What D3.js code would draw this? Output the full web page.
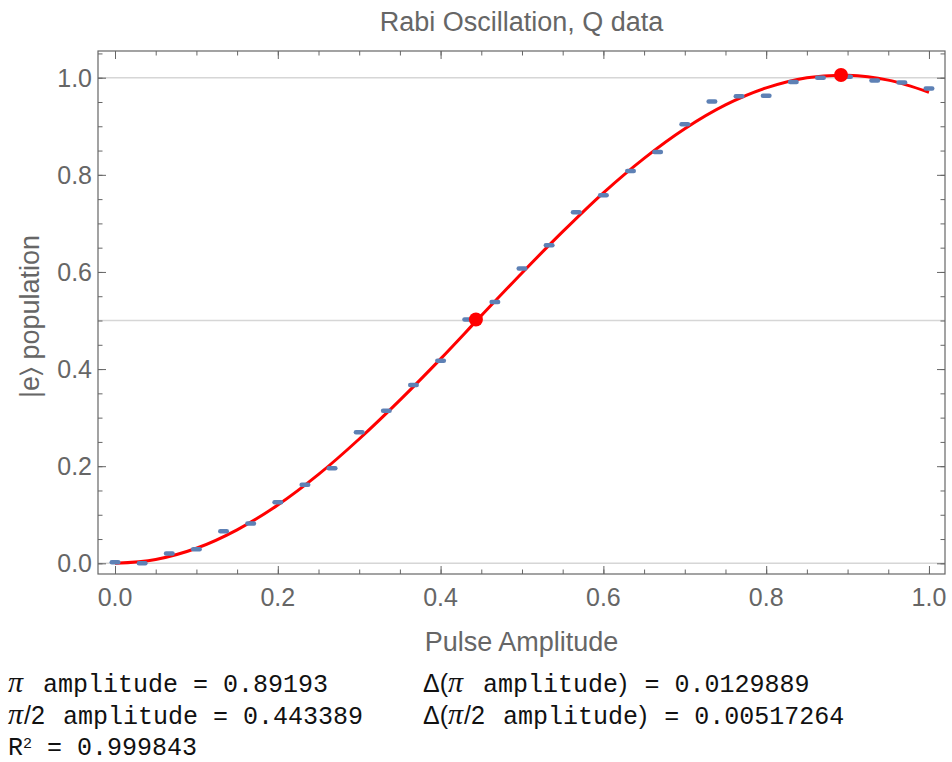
<!DOCTYPE html>
<html>
<head>
<meta charset="utf-8">
<script src="https://cdn.jsdelivr.net/npm/d3@7"></script>
<style>
  html, body { margin: 0; padding: 0; background: #fff; }
  svg { display: block; }
</style>
</head>
<body>
<div id="chart"></div>
<script>
// Rabi oscillation - measured Q data with sin^2 fit

// pulse amplitudes of the measured points
const amplitudes = [0, 1/30, 2/30, 3/30, 4/30, 5/30, 6/30, 7/30, 8/30, 9/30, 10/30,
    11/30, 12/30, 13/30, 14/30, 15/30, 16/30, 17/30, 18/30, 19/30, 20/30,
    21/30, 22/30, 23/30, 24/30, 25/30, 26/30, 27/30, 28/30, 29/30, 1];
// |e> population
const population = [0.002, 0.000, 0.020, 0.029, 0.066, 0.082, 0.126, 0.162, 0.196, 0.270, 0.314,
    0.367, 0.417, 0.502, 0.538, 0.607, 0.655, 0.723, 0.758, 0.808, 0.847,
    0.904, 0.951, 0.962, 0.963, 0.991, 1.000, 1.002, 0.994, 0.990, 0.978];

// fitted curve
const fitX = [0, 0.05, 0.1, 0.15, 0.2, 0.25, 0.3, 0.35, 0.4, 0.45, 0.5,
    0.55, 0.6, 0.65, 0.7, 0.75, 0.8, 0.85, 0.9, 0.95, 1.0];
const fitY = [0, 0.008, 0.031, 0.069, 0.120, 0.183, 0.256, 0.336, 0.421, 0.510, 0.598,
    0.683, 0.763, 0.834, 0.895, 0.944, 0.979, 1.000, 1.005, 0.995, 0.970];

// pi and pi/2 markers
const markerX = [0.89193, 0.443389];
const markerY = [1.0056, 0.502];

const xTickValues = [0, 0.2, 0.4, 0.6, 0.8, 1.0];
const yTickValues = [0, 0.2, 0.4, 0.6, 0.8, 1.0];
const gridValues = [0, 0.5, 1.0];

const width = 952;
const height = 762;
const frame = { left: 98, right: 945, top: 51, bottom: 574 };

const gray = '#666';
const sans = '"Liberation Sans", Arial, Helvetica, sans-serif';
const mono = '"Liberation Mono", "Courier New", monospace';
const serif = '"Liberation Serif", "Times New Roman", serif';

const svg = d3.select('#chart').append('svg')
    .attr('width', width)
    .attr('height', height);

const x = d3.scaleLinear().domain([-0.0209, 1.0197]).range([frame.left, frame.right]);
const y = d3.scaleLinear().domain([-0.022, 1.055]).range([frame.bottom, frame.top]);

// Grid lines
svg.append('g')
    .selectAll('line')
    .data(gridValues)
    .enter()
    .append('line')
    .attr('x1', frame.left)
    .attr('x2', frame.right)
    .attr('y1', d => y(d))
    .attr('y2', d => y(d))
    .attr('stroke', '#d6d6d6')
    .attr('stroke-width', 1.5);

// Frame axes, ticks point inward
const majorLen = 8;
const minorLen = 4.5;
const xMinor = x.ticks(20).filter(v => v >= 0 && v <= 1);
const yMinor = d3.range(0, 22).map(i => i * 0.05).filter(v => v <= y.domain()[1]);

function drawAxis(axis, offset, len, cls) {
    const g = svg.append('g')
        .attr('class', cls)
        .attr('transform', offset)
        .call(axis.tickSize(-len).tickFormat(''));
    g.select('.domain').remove();
    g.selectAll('.tick line').attr('stroke', gray).attr('stroke-width', 1);
    return g;
}

drawAxis(d3.axisBottom(x).tickValues(xMinor), `translate(0,${frame.bottom})`, minorLen, 'xb-minor');
drawAxis(d3.axisBottom(x).tickValues(xTickValues), `translate(0,${frame.bottom})`, majorLen, 'xb-major');
drawAxis(d3.axisTop(x).tickValues(xMinor), `translate(0,${frame.top})`, minorLen, 'xt-minor');
drawAxis(d3.axisTop(x).tickValues(xTickValues), `translate(0,${frame.top})`, majorLen, 'xt-major');
drawAxis(d3.axisLeft(y).tickValues(yMinor), `translate(${frame.left},0)`, minorLen, 'yl-minor');
drawAxis(d3.axisLeft(y).tickValues(yTickValues), `translate(${frame.left},0)`, majorLen, 'yl-major');
drawAxis(d3.axisRight(y).tickValues(yMinor), `translate(${frame.right},0)`, minorLen, 'yr-minor');
drawAxis(d3.axisRight(y).tickValues(yTickValues), `translate(${frame.right},0)`, majorLen, 'yr-major');

svg.append('rect')
    .attr('x', frame.left)
    .attr('y', frame.top)
    .attr('width', frame.right - frame.left)
    .attr('height', frame.bottom - frame.top)
    .attr('fill', 'none')
    .attr('stroke', gray)
    .attr('stroke-width', 1.2);

// Tick labels
svg.append('g')
    .selectAll('text')
    .data(xTickValues)
    .enter()
    .append('text')
    .attr('x', d => x(d))
    .attr('y', 606)
    .attr('text-anchor', 'middle')
    .attr('font-family', sans)
    .attr('font-size', 25)
    .attr('fill', gray)
    .text(d3.format('.1f'));

svg.append('g')
    .selectAll('text')
    .data(yTickValues)
    .enter()
    .append('text')
    .attr('x', 92)
    .attr('y', d => y(d) + 9)
    .attr('text-anchor', 'end')
    .attr('font-family', sans)
    .attr('font-size', 25)
    .attr('fill', gray)
    .text(d3.format('.1f'));

// Title and axis labels
svg.append('text')
    .attr('x', (frame.left + frame.right) / 2)
    .attr('y', 31)
    .attr('text-anchor', 'middle')
    .attr('font-family', sans)
    .attr('font-size', 27)
    .attr('fill', gray)
    .text('Rabi Oscillation, Q data');

svg.append('text')
    .attr('x', (frame.left + frame.right) / 2)
    .attr('y', 651)
    .attr('text-anchor', 'middle')
    .attr('font-family', sans)
    .attr('font-size', 27)
    .attr('fill', gray)
    .text('Pulse Amplitude');

svg.append('text')
    .attr('transform', `translate(39,${(frame.top + frame.bottom) / 2 + 4}) rotate(-90)`)
    .attr('text-anchor', 'middle')
    .attr('font-family', sans)
    .attr('font-size', 27)
    .attr('fill', gray)
    .text('|e\u232A population');

// Fit curve
const fitData = fitX.map((v, i) => [v, fitY[i]]);
const line = d3.line()
    .x(d => x(d[0]))
    .y(d => y(d[1]))
    .curve(d3.curveCatmullRom);

svg.append('path')
    .datum(fitData)
    .attr('d', line)
    .attr('fill', 'none')
    .attr('stroke', '#ff0000')
    .attr('stroke-width', 3);

// Data points (short dashes)
const points = amplitudes.map((v, i) => [v, population[i]]);
svg.append('g')
    .selectAll('rect')
    .data(points)
    .enter()
    .append('rect')
    .attr('x', d => x(d[0]) - 5.5)
    .attr('y', d => y(d[1]) - 2.25)
    .attr('width', 11)
    .attr('height', 4.5)
    .attr('rx', 2.25)
    .attr('fill', '#5e81b5');

// pi, pi/2 markers
svg.append('g')
    .selectAll('circle')
    .data(markerX.map((v, i) => [v, markerY[i]]))
    .enter()
    .append('circle')
    .attr('cx', d => x(d[0]))
    .attr('cy', d => y(d[1]))
    .attr('r', 7)
    .attr('fill', '#ff0000');

// Fit results below the plot
const results = svg.append('g').attr('font-size', 25).attr('fill', '#111');

function row(xPos, yPos, parts) {
    const t = results.append('text')
        .attr('x', xPos)
        .attr('y', yPos)
        .attr('xml:space', 'preserve');
    parts.forEach(p => {
        const s = t.append('tspan')
            .attr('font-family', p.f === 'pi' ? serif : p.f === 'sans' ? sans : mono)
            .text(p.t);
        if (p.f === 'pi') s.attr('font-style', 'italic').attr('font-size', 30);
        if (p.f === 'mono') s.attr('font-weight', 300);
        if (p.dx) s.attr('dx', p.dx);
        if (p.sup) s.attr('font-size', 15).attr('baseline-shift', '45%');
    });
}

row(8, 692, [{ t: '\u03C0', f: 'pi' }, { t: ' amplitude = 0.89193', f: 'mono', dx: 5 }]);
row(423, 692, [{ t: '\u0394(', f: 'sans', dx: 0 }, { t: '\u03C0', f: 'pi' },
    { t: ' amplitude', f: 'mono', dx: 5 }, { t: ')', f: 'sans', dx: 1 }, { t: ' = 0.0129889', f: 'mono', dx: 2 }]);
row(8, 724, [{ t: '\u03C0', f: 'pi' }, { t: '/2', f: 'sans', dx: 1 }, { t: ' amplitude = 0.443389', f: 'mono', dx: 3 }]);
row(423, 724, [{ t: '\u0394(', f: 'sans' }, { t: '\u03C0', f: 'pi' }, { t: '/2', f: 'sans', dx: 1 },
    { t: ' amplitude', f: 'mono', dx: 3 }, { t: ')', f: 'sans', dx: 1 }, { t: ' = 0.00517264', f: 'mono', dx: 2 }]);
row(8, 755, [{ t: 'R', f: 'mono' }, { t: '2', f: 'mono', sup: true }, { t: ' = 0.999843', f: 'mono' }]);
</script>
</body>
</html>
